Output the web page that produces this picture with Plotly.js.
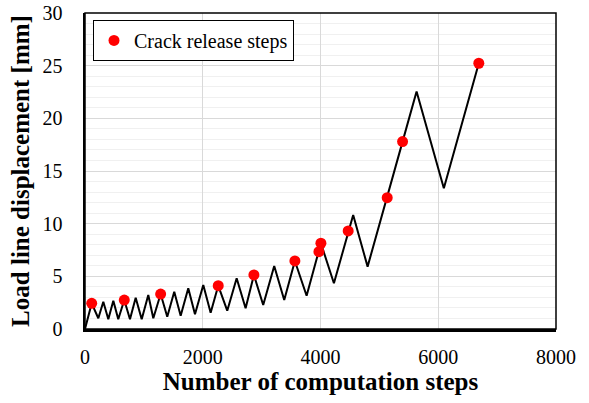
<!DOCTYPE html>
<html>
<head>
<meta charset="utf-8">
<script src="https://cdn.plot.ly/plotly-3.0.1.min.js"></script>
<style>html,body{margin:0;padding:0;background:#fff;}#chart{width:589px;height:403px;}</style>
</head>
<body>
<div id="chart"></div>
<script>
// Load-line displacement path (sawtooth)
const lineSteps = [0, 114, 226, 311, 396, 481, 565, 667, 764, 861, 963, 1075, 1160, 1285, 1397, 1516, 1625, 1754, 1868, 2009, 2134, 2263, 2416, 2576, 2728, 2869, 3027, 3214, 3384, 3565, 3764, 3973, 4007, 4228, 4470, 4555, 4800, 5133, 5394, 5632, 6095, 6689];
const lineDisp  = [0, 2.44, 1.02, 2.59, 0.92, 2.69, 0.92, 2.75, 0.92, 2.97, 0.92, 3.23, 1.02, 3.32, 1.17, 3.54, 1.26, 3.87, 1.40, 4.18, 1.55, 4.11, 1.74, 4.81, 1.97, 5.13, 2.28, 5.98, 2.75, 6.46, 3.16, 7.34, 8.14, 4.34, 9.31, 10.83, 5.92, 12.47, 17.79, 22.54, 13.36, 25.23];
// Crack release steps
const crackSteps = [114, 667, 1285, 2263, 2869, 3565, 3973, 4007, 4470, 5133, 5394, 6689];
const crackDisp  = [2.44, 2.75, 3.32, 4.11, 5.13, 6.46, 7.34, 8.14, 9.31, 12.47, 17.79, 25.23];
const xTicks = [0, 2000, 4000, 6000, 8000];
const yTicks = [0, 5, 10, 15, 20, 25, 30];

const serif = "Liberation Serif";
const traces = [
  {x: lineSteps, y: lineDisp, mode: 'lines', line: {color: '#000', width: 2}, showlegend: false, hoverinfo: 'skip'},
  {x: crackSteps, y: crackDisp, mode: 'markers', name: 'Crack release steps', marker: {color: '#ff0000', size: 11}}
];
const layout = {
  width: 589, height: 403,
  margin: {l: 85, r: 33, t: 13, b: 74},
  paper_bgcolor: '#fff', plot_bgcolor: '#fff',
  font: {family: serif, color: '#000', size: 20},
  xaxis: {
    range: [0, 8000], tickvals: xTicks, ticktext: xTicks.map(String),
    showgrid: true, gridcolor: '#d9d9d9', gridwidth: 1,
    showline: true, linecolor: '#000', linewidth: 2.5, zeroline: false,
    ticks: '', ticklabelstandoff: 8, tickfont: {size: 20, family: serif, color: '#000'},
    title: {text: '<b>Number of computation steps</b>', font: {size: 25, family: serif, color: '#000'}, standoff: 6}
  },
  yaxis: {
    range: [0, 30], tickvals: yTicks, ticktext: yTicks.map(String),
    showgrid: true, gridcolor: '#d9d9d9', gridwidth: 1,
    minor: {dtick: 1, showgrid: true, gridcolor: '#f0f0f0', gridwidth: 1},
    showline: true, linecolor: '#000', linewidth: 2.5, zeroline: false,
    ticks: '', ticklabelstandoff: 16, tickfont: {size: 20, family: serif, color: '#000'},
    title: {text: '<b>Load line displacement [mm]</b>', font: {size: 25, family: serif, color: '#000'}, standoff: 6}
  },
  shapes: [{type: 'rect', xref: 'paper', yref: 'paper', x0: 0, x1: 1, y0: 0, y1: 1, line: {color: '#000', width: 1.5}, fillcolor: 'rgba(0,0,0,0)'}],
  legend: {
    x: 0.017, y: 0.978, xanchor: 'left', yanchor: 'top',
    bgcolor: '#fff', bordercolor: '#000', borderwidth: 1,
    font: {size: 20, family: serif, color: '#000'}
  },
  showlegend: true
};
Plotly.newPlot('chart', traces, layout, {displayModeBar: false, staticPlot: true});
</script>
</body>
</html>
